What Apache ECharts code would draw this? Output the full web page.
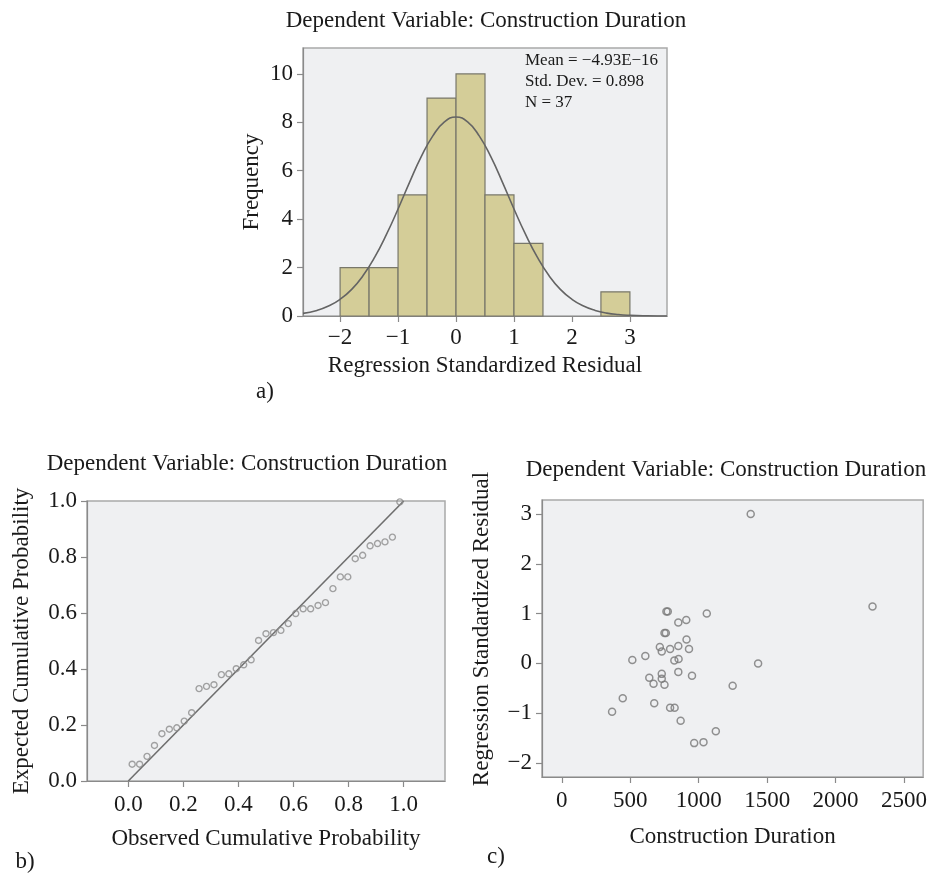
<!DOCTYPE html>
<html>
<head>
<meta charset="utf-8">
<script src="https://cdn.jsdelivr.net/npm/echarts@6/dist/echarts.min.js"></script>
<style>
  html, body { margin: 0; padding: 0; background: #fff; }
  #chart { width: 930px; height: 877px; }
</style>
</head>
<body>
<div id="chart"></div>
<script>
// a) histogram of residuals
const histBinStart = [-2, -1.5, -1, -0.5, 0, 0.5, 1, 1.5, 2, 2.5];
const histBinEnd = [-1.5, -1, -0.5, 0, 0.5, 1, 1.5, 2, 2.5, 3];
const histCounts = [2, 2, 5, 9, 10, 5, 3, 0, 0, 1];
// normal curve
const curveX = [-2.64, -2.4, -2.2, -2, -1.8, -1.6, -1.4, -1.2, -1, -0.8, -0.6, -0.4, -0.2, 0,
  0.2, 0.4, 0.6, 0.8, 1, 1.2, 1.4, 1.6, 1.8, 2, 2.2, 2.4, 2.6, 2.8, 3, 3.3, 3.64];
const curveY = [0.11, 0.23, 0.41, 0.69, 1.10, 1.68, 2.44, 3.37, 4.42, 5.53, 6.58, 7.44, 8.02, 8.22,
  8.02, 7.44, 6.58, 5.53, 4.42, 3.37, 2.44, 1.68, 1.10, 0.69, 0.41, 0.23, 0.12, 0.06, 0.03, 0.01, 0.0];
const histXTicks = [-2, -1, 0, 1, 2, 3];
const histYTicks = [0, 2, 4, 6, 8, 10];
const histStats = ["Mean = \u22124.93E\u221216", "Std. Dev. = 0.898", "N = 37"];

// b) P-P plot
const ppObserved = [0.014, 0.041, 0.068, 0.095, 0.122, 0.149, 0.176, 0.203, 0.230, 0.257, 0.284, 0.311,
  0.338, 0.365, 0.392, 0.419, 0.446, 0.473, 0.500, 0.527, 0.554, 0.581, 0.608, 0.635, 0.662, 0.689,
  0.716, 0.743, 0.770, 0.797, 0.824, 0.851, 0.878, 0.905, 0.932, 0.959, 0.986];
const ppExpected = [0.060, 0.060, 0.088, 0.127, 0.169, 0.185, 0.190, 0.214, 0.244, 0.330, 0.338, 0.344,
  0.380, 0.383, 0.401, 0.415, 0.433, 0.502, 0.526, 0.530, 0.538, 0.562, 0.598, 0.615, 0.615, 0.627,
  0.637, 0.687, 0.729, 0.729, 0.794, 0.806, 0.840, 0.848, 0.854, 0.871, 0.997];
const ppRefX = [0, 1];
const ppRefY = [0, 1];
const ppTicks = [0, 0.2, 0.4, 0.6, 0.8, 1.0];

// c) residuals vs construction duration
const durations = [764, 774, 1059, 851, 909, 750, 760, 911, 716, 730, 791, 851, 929, 610, 515, 822, 853,
  1434, 851, 951, 730, 639, 730, 670, 750, 1248, 445, 675, 791, 824, 367, 868, 1125, 967, 1035, 1380, 2270];
const residuals = [1.04, 1.04, 1.00, 0.82, 0.87, 0.61, 0.61, 0.48, 0.33, 0.24, 0.29, 0.35, 0.29, 0.15, 0.07,
  0.06, 0.09, 0.00, -0.17, -0.25, -0.21, -0.29, -0.31, -0.41, -0.43, -0.45, -0.70, -0.80, -0.89, -0.89,
  -0.97, -1.15, -1.36, -1.60, -1.58, 3.00, 1.14];
const durTicks = [0, 500, 1000, 1500, 2000, 2500];
const resTicks = [-2, -1, 0, 1, 2, 3];

const TITLE = "Dependent Variable: Construction Duration";
const FONT = "Liberation Serif";
const FS = 23;
const TXT = "#1a1a1a";
const PLOT_BG = "#eff0f2";
const BOX = "#a9a9a9";
const AXIS = "#8a8a8a";

function minus(v) { return String(v).replace("-", "\u2212"); }

function valueAxis(gridIndex, ticks, o) {
  const tick = { show: true, length: 6, lineStyle: { color: AXIS, width: 1.2 } };
  const label = { color: TXT, fontFamily: FONT, fontSize: FS, margin: 10 };
  if (ticks) { tick.customValues = ticks; label.customValues = ticks; }
  return Object.assign({
    type: "value",
    gridIndex,
    splitLine: { show: false },
    axisLine: { show: true, onZero: false, lineStyle: { color: AXIS, width: 1.2 } },
    axisTick: tick,
    axisLabel: label,
    nameLocation: "middle",
    nameMoveOverlap: false,
    nameTextStyle: { color: TXT, fontFamily: FONT, fontSize: FS },
  }, o, { axisLabel: Object.assign(label, o.axisLabel || {}) });
}

function textItem(text, x, y, size, align) {
  return { type: "text", x, y, style: { text, font: size + "px " + FONT, fill: TXT, align: align || "center", verticalAlign: "middle" } };
}

const chart = echarts.init(document.getElementById("chart"));

const histData = histBinStart.map((s, i) => [s, histBinEnd[i], histCounts[i]]);

const option = {
  animation: false,
  backgroundColor: "#fff",
  grid: [
    { left: 303, top: 48, width: 364, height: 268, show: true, backgroundColor: PLOT_BG, borderColor: BOX, borderWidth: 1.5 },
    { left: 87, top: 501, width: 358, height: 280, show: true, backgroundColor: PLOT_BG, borderColor: BOX, borderWidth: 1.5 },
    { left: 542, top: 500, width: 383, height: 277, show: true, backgroundColor: PLOT_BG, borderColor: BOX, borderWidth: 1.5 },
  ],
  xAxis: [
    valueAxis(0, histXTicks, {
      min: -2.64, max: 3.64,
      name: "Regression Standardized Residual", nameGap: 38,
      axisLabel: { formatter: minus },
    }),
    valueAxis(1, ppTicks, {
      min: -0.15, max: 1.15,
      name: "Observed Cumulative Probability", nameGap: 46,
      axisLabel: { margin: 12, formatter: v => v.toFixed(1) },
    }),
    valueAxis(2, durTicks, {
      min: -145, max: 2640,
      name: "Construction Duration", nameGap: 48,
      axisLabel: { margin: 12, formatter: v => String(v) },
    }),
  ],
  yAxis: [
    valueAxis(0, histYTicks, {
      min: 0, max: 11.07,
      name: "Frequency", nameGap: 40,
    }),
    valueAxis(1, null, {
      min: 0, max: 1, interval: 0.2,
      name: "Expected Cumulative Probability", nameGap: 54,
      axisLabel: { formatter: v => v.toFixed(1) },
    }),
    valueAxis(2, resTicks, {
      min: -2.28, max: 3.28,
      name: "Regression Standardized Residual", nameGap: 49,
      nameTextStyle: { color: TXT, fontFamily: FONT, fontSize: FS, padding: [0, 0, 0, 19] },
      axisLabel: { formatter: minus },
    }),
  ],
  series: [
    {
      type: "custom",
      xAxisIndex: 0, yAxisIndex: 0,
      data: histData,
      encode: { x: [0, 1], y: 2 },
      renderItem: function (params, api) {
        const v = api.value(2);
        if (!v) return null;
        const p0 = api.coord([api.value(0), v]);
        const p1 = api.coord([api.value(1), 0]);
        return {
          type: "rect",
          shape: { x: p0[0], y: p0[1], width: p1[0] - p0[0], height: p1[1] - p0[1] },
          style: { fill: "#d4cd98", stroke: "#78776a", lineWidth: 1.2 },
        };
      },
      z: 2,
    },
    {
      type: "line",
      xAxisIndex: 0, yAxisIndex: 0,
      data: curveX.map((x, i) => [x, curveY[i]]),
      smooth: true,
      showSymbol: false,
      lineStyle: { color: "#646464", width: 1.6 },
      z: 3,
    },
    {
      type: "line",
      xAxisIndex: 1, yAxisIndex: 1,
      data: ppRefX.map((x, i) => [x, ppRefY[i]]),
      showSymbol: false,
      lineStyle: { color: "#6e6e6e", width: 1.6 },
      z: 2,
    },
    {
      type: "scatter",
      xAxisIndex: 1, yAxisIndex: 1,
      data: ppObserved.map((x, i) => [x, ppExpected[i]]),
      symbol: "circle",
      symbolSize: 6,
      itemStyle: { color: "rgba(0,0,0,0)", borderColor: "#8c8c8c", borderWidth: 1.4 },
      z: 3,
    },
    {
      type: "scatter",
      xAxisIndex: 2, yAxisIndex: 2,
      data: durations.map((x, i) => [x, residuals[i]]),
      symbol: "circle",
      symbolSize: 7,
      itemStyle: { color: "rgba(0,0,0,0)", borderColor: "#777777", borderWidth: 1.5 },
      z: 3,
    },
  ],
  graphic: [
    textItem(TITLE, 486, 21, FS),
    textItem(TITLE, 247, 464, FS),
    textItem(TITLE, 726, 470, FS),
    { type: "text", x: 525, y: 50,
      style: { text: histStats.join("\n"), font: "17px " + FONT, lineHeight: 21, fill: TXT } },
    textItem("a)", 265, 392, FS),
    textItem("b)", 25, 862, FS),
    textItem("c)", 496, 857, FS),
  ],
};

chart.setOption(option);
</script>
</body>
</html>
